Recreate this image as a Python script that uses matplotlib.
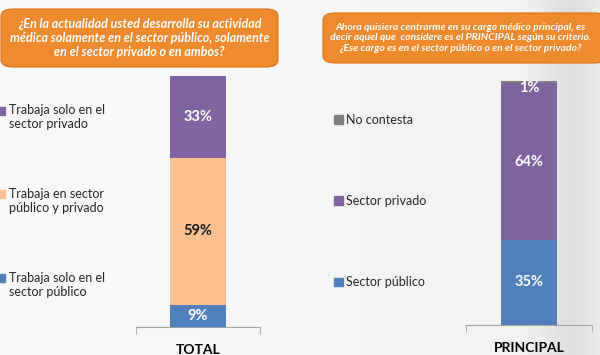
import numpy as np
import matplotlib.pyplot as plt
from matplotlib.patches import FancyBboxPatch, Patch, Rectangle
from matplotlib.legend_handler import HandlerPatch

plt.rcParams['font.family'] = ['Lato', 'DejaVu Sans']

# data
total_labels = ['Trabaja solo en el\nsector público',
                'Trabaja en sector\npúblico y privado',
                'Trabaja solo en el\nsector privado']
total_values = [9, 59, 33]
total_colors = ['#4F81BD', '#FAC090', '#8064A2']
total_text_colors = ['white', '#1a1a1a', 'white']

principal_labels = ['Sector público', 'Sector privado', 'No contesta']
principal_values = [35, 64, 1]
principal_colors = ['#4F81BD', '#8064A2', '#7F7F7F']

q_left = ('¿En la actualidad usted desarrolla su actividad\n'
          'médica solamente en el sector público, solamente\n'
          'en el sector privado o en ambos?')
q_right = ('Ahora quisiera centrarme en su cargo médico principal, es\n'
           'decir aquel que  considere es el PRINCIPAL según su criterio.\n'
           '¿Ese cargo es en el sector público o en el sector privado?')

W, H = 600, 355
fig = plt.figure(figsize=(6, 3.55), dpi=100)
fig.patch.set_facecolor('#F7F7F7')

# soft background with grey band on the right
bg = fig.add_axes([0, 0, 1, 1], zorder=-10)
xx = np.linspace(0, 1, 300)
shade = 0.975 - 0.07 * np.exp(-((xx - 0.95) / 0.05) ** 2) - 0.03 * xx
bg.imshow(np.tile(shade, (10, 1)), cmap='gray', vmin=0, vmax=1,
          aspect='auto', extent=[0, 1, 0, 1])
bg.set_xlim(0, 1)
bg.set_ylim(0, 1)
bg.axis('off')


def px_axes(x0, x1, ytop, ybot):
    return fig.add_axes([x0 / W, (H - ybot) / H, (x1 - x0) / W, (ybot - ytop) / H])


def stacked(ax, values, colors, txt_colors, name, width):
    bottom = 0
    for i, (v, c) in enumerate(zip(values, colors)):
        bars = ax.bar([0], [v], bottom=bottom, width=width, color=c)
        lab = ax.bar_label(bars, labels=[f'{v}%'], label_type='center',
                           color=txt_colors[i], fontsize=10.5, fontweight='bold')
        if v < 3:
            lab[0].set_y(-4)
        bottom += v
    ax.set_xlim(-0.5, 0.5)
    ax.set_ylim(0, bottom)
    ax.set_facecolor('none')
    for s in ['top', 'left', 'right']:
        ax.spines[s].set_visible(False)
    ax.spines['bottom'].set_color('#A6A6A6')
    ax.set_yticks([])
    ax.set_xticks([0])
    ax.set_xticklabels([name], fontsize=10, fontweight='bold', color='black')
    ax.tick_params(axis='x', which='major', length=0, pad=12)
    ax.set_xticks([-0.5, 0.5], minor=True)
    ax.tick_params(axis='x', which='minor', length=5, color='#A6A6A6')


ax1 = px_axes(136, 260, 76, 327)
stacked(ax1, total_values, total_colors, total_text_colors, 'TOTAL', 0.45)

ax2 = px_axes(466, 592, 81, 325)
stacked(ax2, principal_values, principal_colors, ['white'] * 3, 'PRINCIPAL', 0.44)


# square marker next to the first line of a two-line label
def top_square(legend, orig_handle, xdescent, ydescent, width, height, fontsize):
    return Rectangle((-xdescent, -ydescent + 0.6 * fontsize), width, height)


h1 = [Patch(color=c) for c in total_colors][::-1]
fig.legend(h1, total_labels[::-1], loc='center left', bbox_to_anchor=(-2 / W, 1 - 201 / H),
           frameon=False, fontsize=9, handlelength=0.6, handleheight=0.6,
           handletextpad=0.3, labelspacing=4.6, borderpad=0, borderaxespad=0,
           labelcolor='#262626', handler_map={Patch: HandlerPatch(patch_func=top_square)})

h2 = [Patch(color=c) for c in principal_colors][::-1]
fig.legend(h2, principal_labels[::-1], loc='center left', bbox_to_anchor=(334 / W, 1 - 201 / H),
           frameon=False, fontsize=9, handlelength=0.72, handleheight=0.72,
           handletextpad=0.2, labelspacing=5.55, borderpad=0, borderaxespad=0,
           labelcolor='#262626')

# question boxes
for (x0, x1, y0, y1, txt, fs, ls) in [(1, 278, 9, 67, q_left, 9.0, 1.2),
                                      (323, 606, 13, 63, q_right, 7.5, 1.2)]:
    box = FancyBboxPatch((x0 / W, 1 - y1 / H), (x1 - x0) / W, (y1 - y0) / H,
                         boxstyle='round,pad=0,rounding_size=0.02',
                         transform=fig.transFigure, facecolor='#EE8A2E',
                         edgecolor='#D9731C', linewidth=0.8, zorder=1)
    fig.patches.append(box)
    cx = (x0 + min(x1, 598)) / 2
    fig.text(cx / W, 1 - (y0 + y1) / 2 / H, txt, ha='center', va='center',
             color='white', fontsize=fs, fontweight='bold', fontstyle='italic',
             linespacing=ls, zorder=2)

fig.savefig('out.png', dpi=100, facecolor=fig.get_facecolor())
